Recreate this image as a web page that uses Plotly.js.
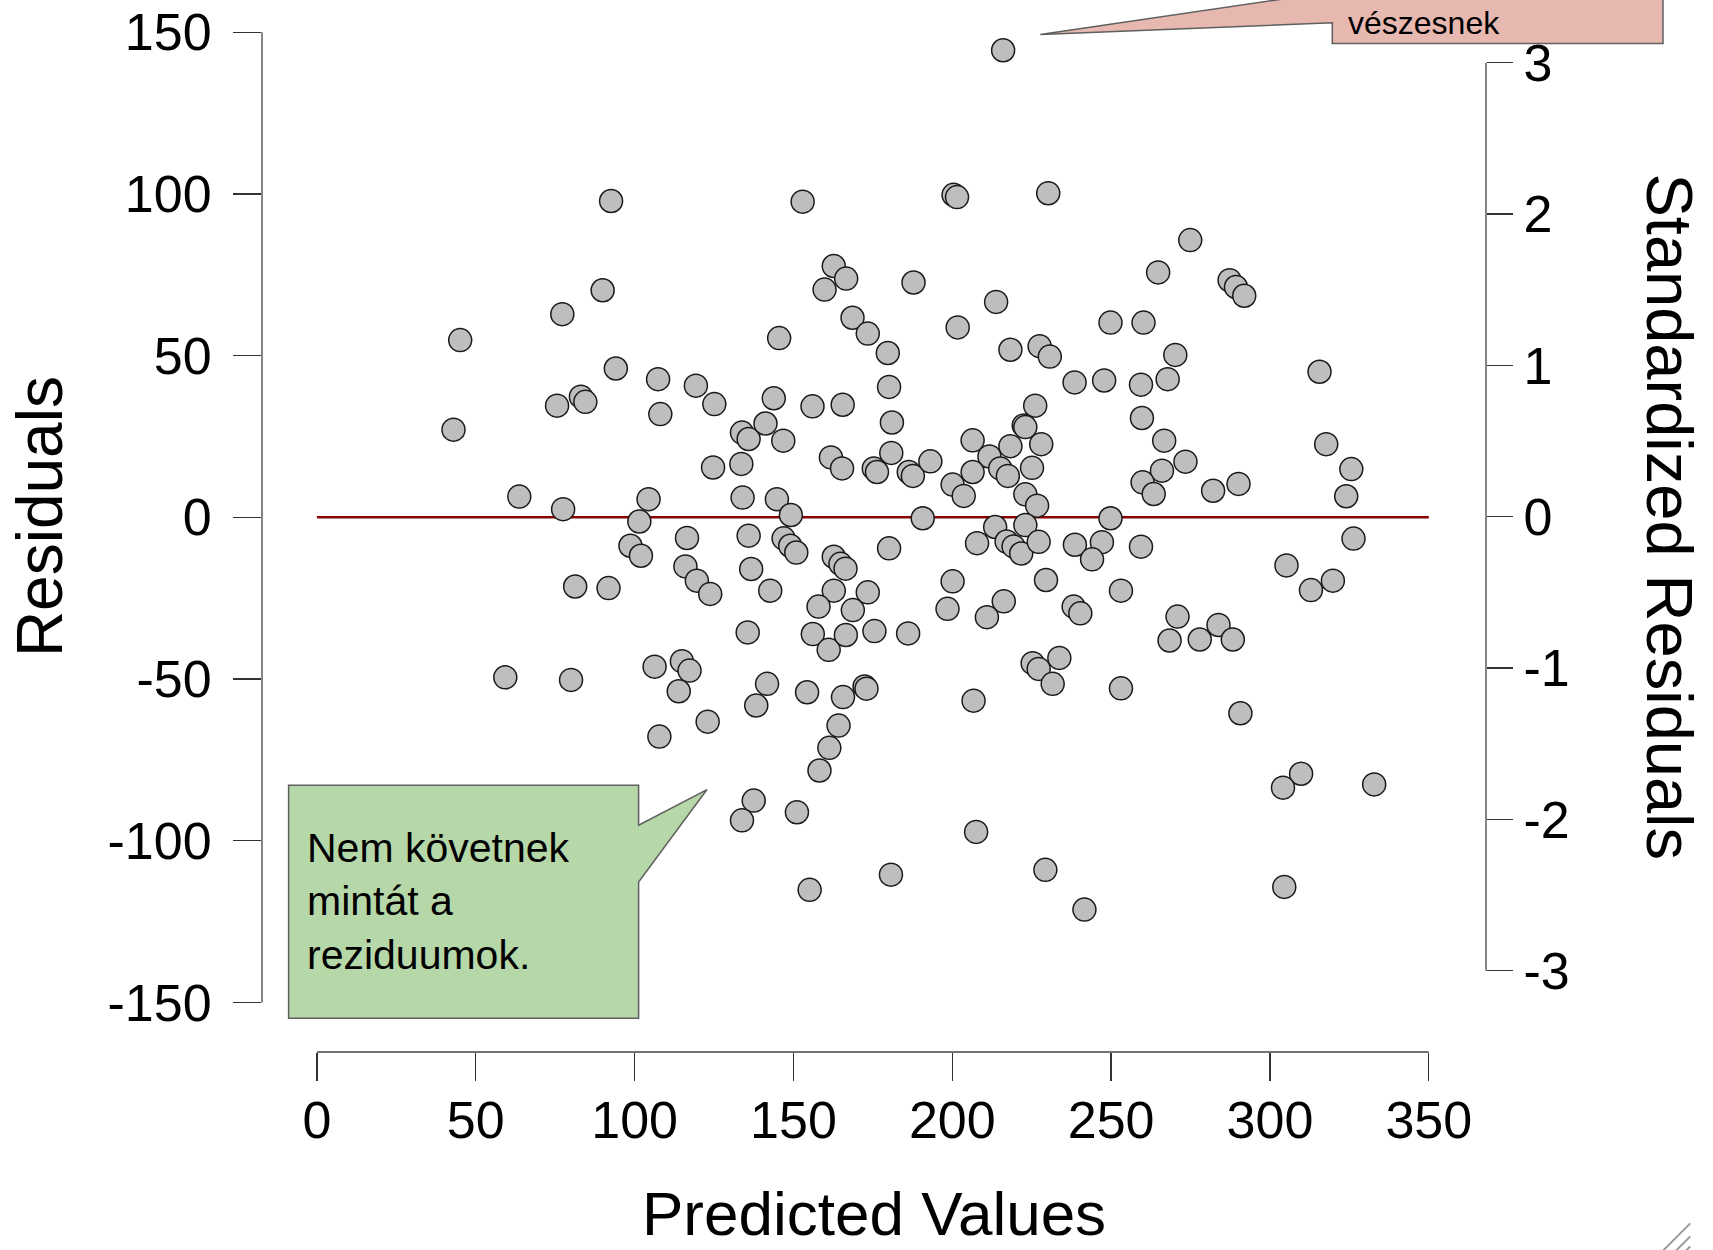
<!DOCTYPE html>
<html>
<head>
<meta charset="utf-8">
<script src="https://cdn.plot.ly/plotly-3.0.1.min.js"></script>
<style>
  html, body { margin: 0; padding: 0; background: #ffffff; }
  #chart { width: 1713px; height: 1250px; }
</style>
</head>
<body>
<div id="chart"></div>
<script>
// ---------------- DATA ----------------
const predicted = [
  89.95, 77.25, 45.1, 94.1, 107.4, 119.3, 125.1, 108.1, 145.5, 143.8, 75.6, 83.1, 84.5, 43.0, 133.8, 135.9, 141.2, 146.8, 124.7, 133.6,
  63.7, 77.5, 104.4, 134.0, 144.8, 149.2, 101.5, 98.7, 102.0, 116.5, 135.9, 146.9, 149.0, 150.9, 116.0, 136.7,
  119.6, 123.8, 142.7, 81.3, 91.8, 135.6, 59.3, 80.0, 106.3, 114.9, 117.3, 113.9, 123.0, 107.8, 141.7, 138.3, 137.5, 133.8,
  92.6,
  216.0, 152.9, 200.4, 201.5, 230.2, 162.7, 166.6, 159.8, 187.8, 213.8, 168.6, 173.4, 201.7, 179.7, 218.3, 227.5, 230.7, 249.8, 238.5, 247.8,
  180.1, 156.0, 165.5, 181.0, 226.1, 222.5, 223.0, 206.4, 218.3, 228.0, 161.8, 165.3, 180.8, 175.3, 176.3, 186.3, 187.6, 193.1, 211.7, 206.4,
  200.1, 203.6, 215.1, 217.5, 225.1, 223.0, 226.7, 190.7, 249.8, 213.5, 223.0, 207.8, 217.1, 219.3, 221.7, 227.2, 238.6, 247.1, 244.0, 180.1,
  162.7, 164.8, 166.4,
  162.7, 173.4, 157.9, 168.7, 156.1, 161.1, 166.5, 175.5, 186.1, 200.1, 198.5, 216.2, 210.9, 229.5, 238.2, 240.3, 225.3, 227.2, 233.7, 231.6,
  154.3, 165.6, 172.4, 173.0, 206.7, 164.2, 161.3, 158.2, 151.1, 207.5, 155.1, 180.7, 229.3, 241.6,
  259.4, 326.3, 253.1, 270.9, 268.4, 277.9, 283.8, 288.3, 305.2, 312.9, 319.8, 253.1, 290.7, 309.8, 304.1, 332.8, 304.5,
  274.9, 264.8, 287.3, 289.3, 291.9, 260.2, 270.2, 259.4, 267.8, 259.7, 315.6, 266.7, 273.4, 266.0, 259.9, 263.4, 282.1, 290.1, 317.7, 325.6,
  324.0
];
const residuals = [
  70.2, 62.8, 54.8, 46.0, 42.7, 40.7, 35.0, 31.9, 55.4, 36.8, 34.5, 37.3, 35.7, 27.1, 26.2, 24.2, 29.0, 23.7, 15.4, 16.5,
  6.4, 2.5, 5.6, 6.1, 5.6, 0.7, -1.3, -8.8, -11.9, -6.4, -5.7, -6.5, -8.8, -10.9, -15.2, -16.0,
  -19.6, -23.7, -22.7, -21.4, -21.9, -35.6, -49.5, -50.3, -46.2, -44.5, -47.4, -53.8, -63.2, -67.8, -51.5, -58.2, -87.6, -93.7,
  97.8,
  144.4, 97.6, 99.7, 99.0, 100.2, 77.7, 73.8, 70.4, 72.6, 66.6, 61.7, 56.8, 58.7, 50.8, 51.8, 52.9, 49.7, 60.2, 41.7, 42.3,
  40.3, 34.3, 34.8, 29.3, 34.5, 28.4, 27.9, 23.8, 22.0, 22.6, 18.5, 15.1, 19.9, 15.1, 14.0, 14.0, 12.8, 17.3, 18.8, 14.0,
  10.1, 6.6, 15.1, 12.8, 15.3, 7.1, 3.6, -0.3, -0.3, -3.0, -2.4, -8.0, -7.5, -9.0, -11.2, -7.6, -8.5, -7.7, -13.0, -9.6,
  -12.2, -14.4, -15.9,
  -22.7, -23.2, -27.6, -28.7, -36.1, -41.0, -36.4, -35.2, -35.9, -19.8, -28.3, -26.0, -30.9, -19.4, -27.6, -29.7, -45.1, -46.9, -43.5, -51.5,
  -54.1, -55.6, -52.3, -53.0, -56.7, -64.4, -71.3, -78.3, -91.2, -97.3, -115.2, -110.5, -109.0, -121.3,
  -9.1, -6.6, -22.7, -30.7, -38.1, -37.8, -33.3, -37.8, -14.9, -22.5, -19.6, -52.9, -60.6, -79.3, -83.6, -82.6, -114.3,
  85.7, 75.7, 73.3, 71.2, 68.5, 60.2, 50.2, 41.0, 42.7, 30.7, 45.0, 23.7, 17.2, 14.4, 10.8, 7.2, 8.2, 10.3, 22.6, 14.9,
  6.5
];
const refLineX = [0, 350];
const refLineY = [0, 0];

const xTickVals = [0, 50, 100, 150, 200, 250, 300, 350];
const xTickText = ['0', '50', '100', '150', '200', '250', '300', '350'];
const yTickVals = [-150, -100, -50, 0, 50, 100, 150];
const yTickText = ['-150', '-100', '-50', '0', '50', '100', '150'];
const stdTickVals = [-3, -2, -1, 0, 1, 2, 3];
const stdTickText = ['-3', '-2', '-1', '0', '1', '2', '3'];

const xTitle = 'Predicted Values';
const yTitle = 'Residuals';
const y2Title = 'Standardized Residuals';
const noteGreen = 'Nem követnek<br>mintát a<br>reziduumok.';
const notePink = 'vészesnek';

// ---------------- LAYOUT HELPERS ----------------
const FONT = 'Liberation Sans, Arial, Helvetica, sans-serif';
const L = 261.7, R = 1485.7, T = 31.9, B = 1051.7;
const W = R - L, H = B - T;
const fx = p => (p - L) / W;
const fy = p => (B - p) / H;
function pathFrom(pts) {
  return 'M ' + pts.map(p => fx(p[0]).toFixed(5) + ',' + fy(p[1]).toFixed(5)).join(' L ') + ' Z';
}

const traces = [
  {
    x: refLineX, y: refLineY, type: 'scatter', mode: 'lines',
    line: { color: '#8b0000', width: 2.5 }, hoverinfo: 'skip', showlegend: false
  },
  {
    x: predicted, y: residuals, type: 'scatter', mode: 'markers',
    marker: { size: 23, color: '#bebebe', line: { color: '#1a1a1a', width: 1.5 } },
    showlegend: false, cliponaxis: false
  },
  { x: [], y: [], yaxis: 'y2', type: 'scatter', mode: 'markers', showlegend: false, hoverinfo: 'skip' }
];

const tickFont = { family: FONT, size: 52, color: '#000000' };
const axisCommon = {
  showgrid: false, zeroline: false, showline: false,
  ticks: 'outside', tickwidth: 1.3, tickcolor: '#333333', tickmode: 'array',
  tickfont: tickFont, fixedrange: true
};

const layout = {
  width: 1713, height: 1250, autosize: false,
  margin: { l: L, r: 1713 - R, t: T, b: 1250 - B, pad: 0 },
  paper_bgcolor: '#ffffff', plot_bgcolor: '#ffffff',
  showlegend: false,
  font: { family: FONT, color: '#000000' },
  xaxis: Object.assign({}, axisCommon, {
    range: [-17.28, 368.0], tickvals: xTickVals, ticktext: xTickText, ticklen: 28, ticklabelstandoff: -5
  }),
  yaxis: Object.assign({}, axisCommon, {
    range: [-165.34, 150.05], tickvals: yTickVals, ticktext: yTickText, ticklen: 28, ticklabelstandoff: 11
  }),
  yaxis2: Object.assign({}, axisCommon, {
    overlaying: 'y', side: 'right', anchor: 'x',
    range: [-3.5366, 3.2036], tickvals: stdTickVals, ticktext: stdTickText, ticklen: 26, ticklabelstandoff: 0
  }),
  shapes: [
    { type: 'line', xref: 'paper', yref: 'y', x0: 0, x1: 0, y0: yTickVals[0], y1: yTickVals[yTickVals.length - 1],
      line: { color: '#444444', width: 1.3 } },
    { type: 'line', xref: 'x', yref: 'paper', x0: xTickVals[0], x1: xTickVals[xTickVals.length - 1], y0: 0, y1: 0,
      line: { color: '#444444', width: 1.3 } },
    { type: 'line', xref: 'paper', yref: 'y2', x0: 1, x1: 1, y0: stdTickVals[0], y1: stdTickVals[stdTickVals.length - 1],
      line: { color: '#444444', width: 1.3 } },
    { type: 'path', xref: 'paper', yref: 'paper',
      path: pathFrom([[1040, 34.3], [1332, 22.7], [1332, 43.3], [1662.7, 43.3], [1662.7, -120], [1332, -120], [1332, -8.3]]),
      fillcolor: '#e6b8af', line: { color: '#5f5f5f', width: 1.5 } },
    { type: 'path', xref: 'paper', yref: 'paper',
      path: pathFrom([[288.3, 785], [638.3, 785], [638.3, 825], [706.7, 789.3], [638.3, 881.7], [638.3, 1018], [288.3, 1018]]),
      fillcolor: '#b6d7a8', line: { color: '#5f5f5f', width: 1.5 } },
    { type: 'line', xref: 'paper', yref: 'paper', x0: fx(1690), y0: fy(1223), x1: fx(1663), y1: fy(1250),
      line: { color: '#9a9a9a', width: 2 } },
    { type: 'line', xref: 'paper', yref: 'paper', x0: fx(1690), y0: fy(1236), x1: fx(1676), y1: fy(1250),
      line: { color: '#9a9a9a', width: 2 } },
    { type: 'line', xref: 'paper', yref: 'paper', x0: fx(1690), y0: fy(1246), x1: fx(1686), y1: fy(1250),
      line: { color: '#9a9a9a', width: 2 } }
  ],
  annotations: [
    { text: xTitle, xref: 'paper', yref: 'paper', x: fx(873.7), y: fy(1213), xanchor: 'center', yanchor: 'middle',
      showarrow: false, font: { family: FONT, size: 62, color: '#000000' } },
    { text: yTitle, xref: 'paper', yref: 'paper', x: fx(39), y: fy(516.6), xanchor: 'center', yanchor: 'middle',
      textangle: -90, showarrow: false, font: { family: FONT, size: 64, color: '#000000' } },
    { text: y2Title, xref: 'paper', yref: 'paper', x: fx(1669), y: fy(516.6), xanchor: 'center', yanchor: 'middle',
      textangle: 90, showarrow: false, font: { family: FONT, size: 65, color: '#000000' } },
    { text: noteGreen, xref: 'paper', yref: 'paper', x: fx(305), y: fy(901), xanchor: 'left', yanchor: 'middle',
      align: 'left', showarrow: false, font: { family: FONT, size: 41, color: '#000000' } },
    { text: notePink, xref: 'paper', yref: 'paper', x: fx(1346), y: fy(23), xanchor: 'left', yanchor: 'middle',
      align: 'left', showarrow: false, font: { family: FONT, size: 32, color: '#000000' } }
  ]
};

Plotly.newPlot('chart', traces, layout, { displayModeBar: false, staticPlot: true });
</script>
</body>
</html>
